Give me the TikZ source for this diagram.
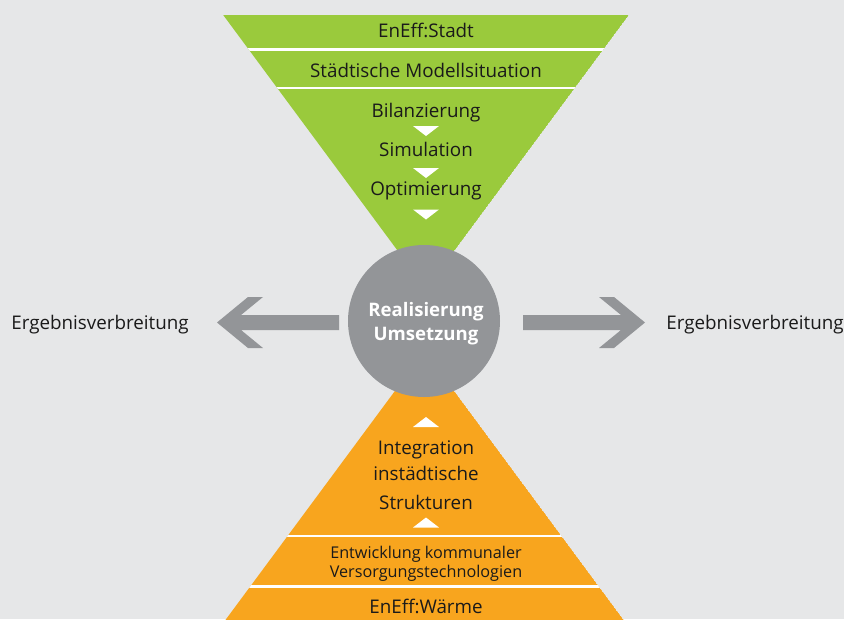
\documentclass[tikz,border=0pt]{standalone}
\usepackage{fontspec}
\setmainfont{Open Sans}
\definecolor{bg}{HTML}{E6E7E8}
\definecolor{grn}{HTML}{9ACA3C}
\definecolor{org}{HTML}{F8A51E}
\definecolor{gry}{HTML}{939598}
\definecolor{txt}{HTML}{1A1A1A}
\tikzset{
  lbl/.style={font=\fontsize{18.8}{20}\selectfont, text=txt, inner sep=0pt, anchor=base},
  smalllbl/.style={font=\fontsize{16.2}{20}\selectfont, text=txt, inner sep=0pt, anchor=base},
  marker/.style={fill=white, draw=none},
  sep/.style={white, line width=2.5pt},
  bigarrow/.style={fill=gry, draw=none},
  circtext/.style={font=\fontsize{18.6}{24}\bfseries\selectfont, text=white, inner sep=0pt, anchor=base}
}
\begin{document}
\begin{tikzpicture}[x=1pt,y=-1pt]
\fill[bg] (0,0) rectangle (844,619);
\useasboundingbox (0,0) rectangle (844,619);
% green funnel
\begin{scope}
\clip (223.2,15) -- (628.8,15) -- (426,289) -- cycle;
\fill[grn] (223.2,15) -- (628.8,15) -- (426,289) -- cycle;
\draw[sep] (200,49.3) -- (650,49.3);
\draw[sep] (200,87.8) -- (650,87.8);
\end{scope}
% orange pyramid
\begin{scope}
\clip (0,0) rectangle (844,619);
\clip (424.5,351) -- (424.5+0.74*300,651) -- (424.5-0.74*300,651) -- cycle;
\fill[org] (424.5,351) -- (424.5+0.74*300,651) -- (424.5-0.74*300,651) -- cycle;
\draw[sep] (200,535.8) -- (650,535.8);
\draw[sep] (200,586.6) -- (650,586.6);
\end{scope}
% markers green
\fill[marker] (413,126) -- (439,126) -- (426,136) -- cycle;
\fill[marker] (413,168) -- (439,168) -- (426,178) -- cycle;
\fill[marker] (413,209.5) -- (439,209.5) -- (426,219.5) -- cycle;
% markers orange
\fill[marker] (413,427) -- (439,427) -- (426,417) -- cycle;
\fill[marker] (413,527.5) -- (439,527.5) -- (426,517.5) -- cycle;
% circle
\node[circle, fill=gry, minimum size=152pt, inner sep=0pt] (c) at (424,321) {};
\node[circtext] (c1) at (426,316.7) {Realisierung};
\node[circtext] (c2) at (426,340) {Umsetzung};
% arrows
\fill[bigarrow] (217,322.5) -- (248,297) -- (263,297) -- (241,315) -- (339,315) -- (339,330) -- (241,330) -- (263,348) -- (248,348) -- cycle;
\fill[bigarrow] (645,322.5) -- (614,297) -- (599,297) -- (621,315) -- (523,315) -- (523,330) -- (621,330) -- (599,348) -- (614,348) -- cycle;
% texts
\node[lbl] (t1) at (426,37.7) {EnEff:Stadt};
\node[lbl] (t2) at (426,77.7) {Städtische Modellsituation};
\node[lbl] (t3) at (426,117) {Bilanzierung};
\node[lbl] (t4) at (426,156) {Simulation};
\node[lbl] (t5) at (426,195) {Optimierung};
\node[lbl] (t6) at (426,454) {Integration};
\node[lbl] (t7) at (426,480.7) {instädtische};
\node[lbl] (t8) at (426,509) {Strukturen};
\node[smalllbl] (t9a) at (426,558.3) {Entwicklung kommunaler};
\node[smalllbl] (t9b) at (426,577.3) {Versorgungstechnologien};
\node[lbl] (t10) at (426,613.3) {EnEff:Wärme};
\node[lbl] (el) at (100,329.3) {Ergebnisverbreitung};
\node[lbl] (er) at (755,329.3) {Ergebnisverbreitung};
\end{tikzpicture}
\end{document}
